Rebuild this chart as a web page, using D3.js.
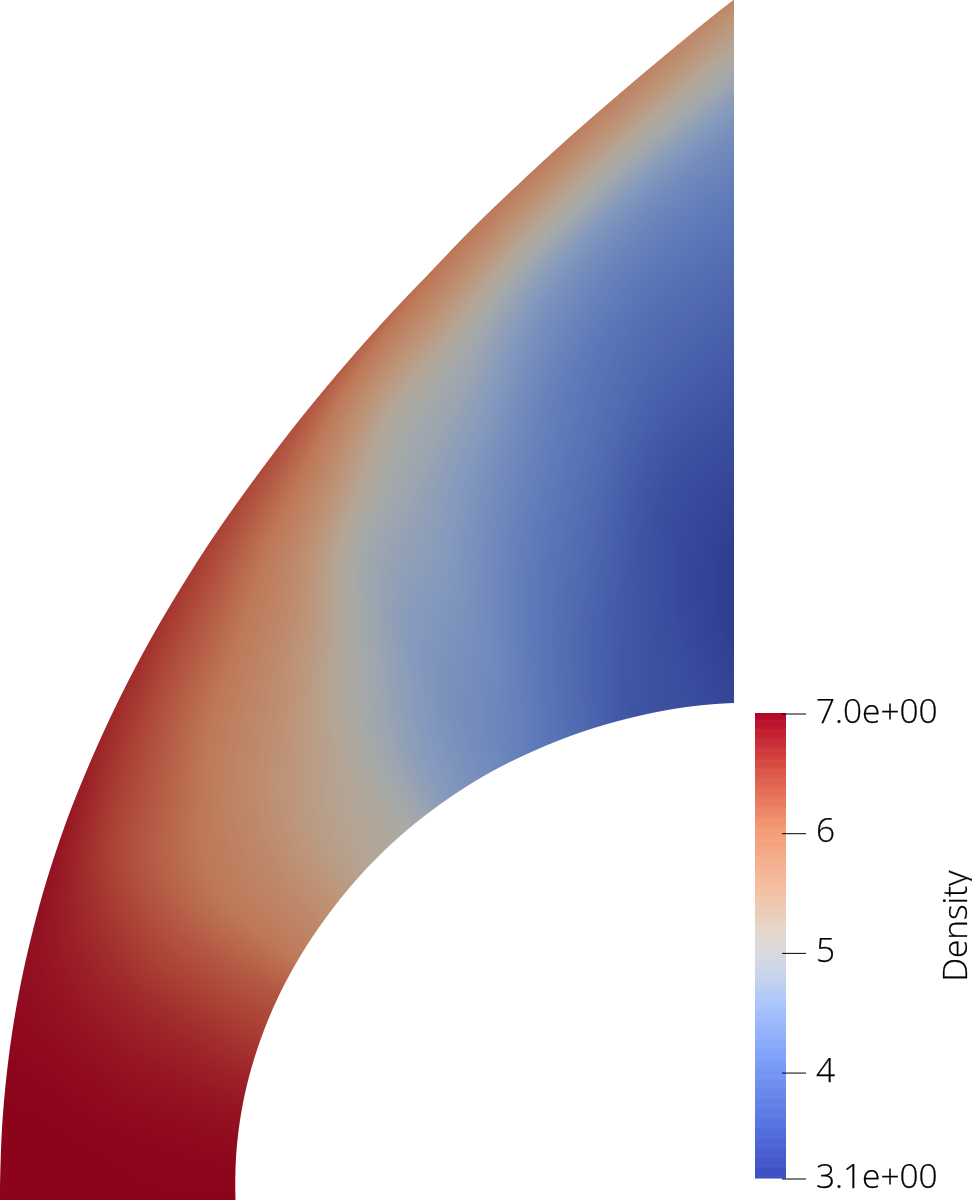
<!DOCTYPE html>
<html><head><meta charset="utf-8">
<script src="https://cdn.jsdelivr.net/npm/d3@7"></script>
<style>html,body{margin:0;padding:0;background:#fff;overflow:hidden}
#wrap{position:relative;width:972px;height:1201px}canvas,svg{position:absolute;left:0;top:0;display:block}</style>
</head><body>
<div id="wrap"><canvas id="field" width="972" height="1201"></canvas><svg id="chart" width="972" height="1201"></svg></div>
<script>
// Stations along the band, degrees from the bottom edge to the right edge
const stationAngles = [0,6,12,18,24,30,36,42,48,54,60,66,72,78,84,90];
// Outer edge sampled every 3 degrees, inner edge every 6 degrees
const outerRadius = [733.5,733.9,735.2,737,739.5,742.6,746.3,750.6,755.8,761.5,768,775,783,792,802,813,825,838.5,853,869,887,906.5,928,951.5,977,1006.5,1037.8,1072.6,1110.6,1153,1200];
const innerRadius = [498,499.5,500,499.5,498.5,497,495.5,494.5,493.5,492.5,492,491.5,492,493,495,497];
// Density read across the band at each station (outer edge -> inner edge)
const densityTable = [
 [7.00,7.00,7.00,7.00,7.00,7.00,7.00],
 [7.00,7.00,6.99,6.98,6.97,6.96,6.95],
 [6.97,6.95,6.92,6.88,6.86,6.84,6.82],
 [6.92,6.85,6.78,6.72,6.68,6.64,6.60],
 [6.90,6.72,6.58,6.46,6.40,6.36,6.35],
 [6.85,6.55,6.32,6.16,6.05,6.00,5.95],
 [6.75,6.45,6.18,5.95,5.80,5.68,5.60],
 [6.68,6.32,6.00,5.75,5.52,5.35,5.25],
 [6.60,6.20,5.85,5.55,5.28,5.12,5.05],
 [6.50,6.00,5.60,5.18,4.88,4.70,4.60],
 [6.40,5.72,5.02,4.72,4.55,4.42,4.35],
 [6.25,5.22,4.80,4.58,4.40,4.25,4.10],
 [6.10,5.05,4.58,4.28,4.08,3.92,3.80],
 [6.00,4.72,4.22,4.00,3.78,3.60,3.50],
 [5.90,4.55,4.00,3.70,3.42,3.36,3.40],
 [5.75,4.50,3.95,3.60,3.30,3.12,3.25]
];
// Colour legend
const legendTicks = [3.115,4,5,6,7];
const legendLabels = ["3.1e+00","4","5","6","7.0e+00"];
const legendTitle = "Density";
const colorStopValues = [3.115,3.6,4.086,4.572,4.8,5.0,5.2,5.543,6.029,6.514,7];
const colorStops = ["#3b4cc0","#5876e2","#7a9df8","#aac5fc","#c6d3ec","#d8dadd","#e6d5c9","#f4bea0","#f49b75","#dc5546","#b40426"];
const surfaceShade = [0.78,0.78,0.75];

const svg = d3.select("#chart");
const color = d3.scaleLinear().domain(colorStopValues).range(colorStops).clamp(true);

const centerX=733.5, centerY=1200;
const stationOf = d3.scaleLinear().domain([0,90]).range([0,stationAngles.length-1]);
const outerIndexOf = d3.scaleLinear().domain([0,90]).range([0,outerRadius.length-1]);
const nr=densityTable[0].length-1;

function spline(arr,u){
  const n=arr.length-1, i=Math.min(n-1,Math.max(0,Math.floor(u))), f=u-i;
  const p1=arr[i],p2=arr[i+1];
  const p0=i>0?arr[i-1]:2*p1-p2, p3=i<n-1?arr[i+2]:2*p2-p1;
  return 0.5*(2*p1+(p2-p0)*f+(2*p0-5*p1+4*p2-p3)*f*f+(3*p1-p0-3*p2+p3)*f*f*f);
}
const densityColumns=d3.transpose(densityTable);
function dens(u,v){
  const row=densityColumns.map(c=>spline(c,u));
  return spline(row,v);
}
// Surface shading of the field through the colour scale
const lutScale=d3.scaleLinear().domain([3,7]).range([0,4095]).clamp(true);
const lut=d3.range(4096).map(i=>{const c=d3.rgb(color(lutScale.invert(i)));return [c.r*surfaceShade[0],c.g*surfaceShade[1],c.b*surfaceShade[2]];});

const ctx=document.getElementById("field").getContext("2d");
const img=ctx.createImageData(972,1201);
const clamp01=d3.scaleLinear().domain([0,1]).range([0,1]).clamp(true);
for(let py=0;py<1201;py++)for(let px=0;px<740;px++){
  const xx=centerX-(px+.5), yy=centerY-(py+.5);
  const cov0=clamp01(xx+1)*clamp01(yy+.5);
  if(cov0<=0)continue;
  const ax=Math.max(xx,0.001), ay=Math.max(yy,0.001);
  const r=Math.hypot(ax,ay), th=Math.atan2(ay,ax)*180/Math.PI;
  const u=stationOf(th);
  const ro=spline(outerRadius,outerIndexOf(th)), ri=spline(innerRadius,u);
  const cov=cov0*clamp01(r-ri+.5)*clamp01(ro-r+.5);
  if(cov<=0)continue;
  const v=Math.max(0,Math.min(nr,nr*(ro-r)/(ro-ri)));
  const c=lut[Math.round(lutScale(dens(u,v)))];
  const k=(py*972+px)*4;
  img.data[k]=c[0]*cov+255*(1-cov);img.data[k+1]=c[1]*cov+255*(1-cov);img.data[k+2]=c[2]*cov+255*(1-cov);img.data[k+3]=255;
}
ctx.putImageData(img,0,0);

// Legend
const fontFamily="'Open Sans'", fontSize=33.4;
const yLegend=d3.scaleLinear().domain([3.115,7]).range([1178,713]);
const bands=d3.range(256).map(i=>3.115+(7-3.115)*i/256);
const barX=755, barW=31;
svg.append("g").attr("class","bar").selectAll("rect").data(bands).join("rect")
  .attr("x",barX).attr("width",barW)
  .attr("y",d=>yLegend(d+3.885/256)).attr("height",d=>yLegend(d)-yLegend(d+3.885/256)+0.5)
  .attr("fill",d=>color(d+3.885/512));
const axis=d3.axisRight(yLegend).tickValues(legendTicks).tickSize(24).tickPadding(10)
  .tickFormat((d,i)=>legendLabels[i]);
const ax=svg.append("g").attr("transform","translate(782,0.5)").call(axis);
ax.select(".domain").remove();
ax.selectAll("line").attr("stroke","#000").attr("stroke-width",1);
ax.selectAll("text").attr("fill","#000").attr("font-family",fontFamily).attr("font-size",fontSize).attr("font-weight",300).attr("dy",8.5).attr("stroke","#000").attr("stroke-width",0.25);
svg.append("text").attr("transform","translate(967,926) rotate(-90)").attr("text-anchor","middle")
  .attr("font-family",fontFamily).attr("font-size",fontSize).attr("font-weight",300).attr("fill","#000").attr("stroke","#000").attr("stroke-width",0.25).text(legendTitle);
</script>
</body></html>
